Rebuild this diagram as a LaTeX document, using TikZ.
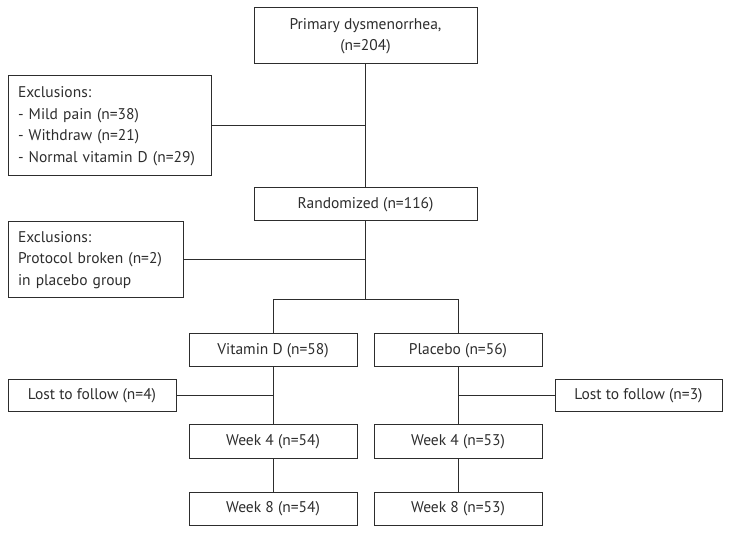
\documentclass[tikz,border=0pt]{standalone}
\usepackage{fontspec}
\setmainfont{PT Sans}
\definecolor{ink}{RGB}{45,45,45}
\begin{document}
\begin{tikzpicture}[x=1pt,y=1pt,
  every node/.style={font=\fontsize{15.5}{21.5}\selectfont, text=ink},
  box/.style={draw=ink, line width=1pt, inner sep=0pt, align=center},
  lbox/.style={draw=ink, line width=1pt, inner ysep=0pt, align=left},
  conn/.style={draw=ink, line width=1pt}]
\useasboundingbox (0,0) rectangle (731,-534);
\node[box, minimum width=223, minimum height=56] (top) at (365.5,-36) {Primary dysmenorrhea,\\(n=204)};
\node[lbox, inner xsep=10, text width=183, minimum height=100] (ex1) at (109.5,-126) {Exclusions:\\- Mild pain (n=38)\\- Withdraw (n=21)\\- Normal vitamin D (n=29)};
\node[box, minimum width=223, minimum height=33] (rand) at (365.5,-204.5) {Randomized (n=116)};
\node[lbox, inner xsep=10, text width=155, minimum height=76] (ex2) at (95.5,-260) {Exclusions:\\Protocol broken (n=2)\\in placebo group};
\coordinate (split) at (365.5,-300);
\node[box, minimum width=168, minimum height=33] (vit) at (273,-350.5) {Vitamin D (n=58)};
\node[box, minimum width=168, minimum height=33] (pla) at (458,-350.5) {Placebo (n=56)};
\node[box, minimum width=168, minimum height=32] (lost1) at (92,-396) {Lost to follow (n=4)};
\node[box, minimum width=167, minimum height=32] (lost2) at (638.5,-396) {Lost to follow (n=3)};
\node[box, minimum width=168, minimum height=33] (w4a) at (273,-441.5) {Week 4 (n=54)};
\node[box, minimum width=168, minimum height=33] (w4b) at (458,-441.5) {Week 4 (n=53)};
\node[box, minimum width=168, minimum height=33] (w8a) at (273,-508.5) {Week 8 (n=54)};
\node[box, minimum width=168, minimum height=33] (w8b) at (458,-508.5) {Week 8 (n=53)};
\draw[conn] (top.south) -- (rand.north);
\draw[conn] (ex1.east) -- (ex1.east -| top.south);
\draw[conn] (rand.south) -- (split);
\draw[conn] (ex2.east) -- (ex2.east -| rand.south);
\draw[conn] (vit.north) -- (vit.north |- split) -- (pla.north |- split) -- (pla.north);
\draw[conn] (vit.south) -- (w4a.north);
\draw[conn] (pla.south) -- (w4b.north);
\draw[conn] (lost1.east) -- (lost1.east -| vit.south);
\draw[conn] (lost2.west) -- (lost2.west -| pla.south);
\draw[conn] (w4a.south) -- (w8a.north);
\draw[conn] (w4b.south) -- (w8b.north);
\end{tikzpicture}
\end{document}
